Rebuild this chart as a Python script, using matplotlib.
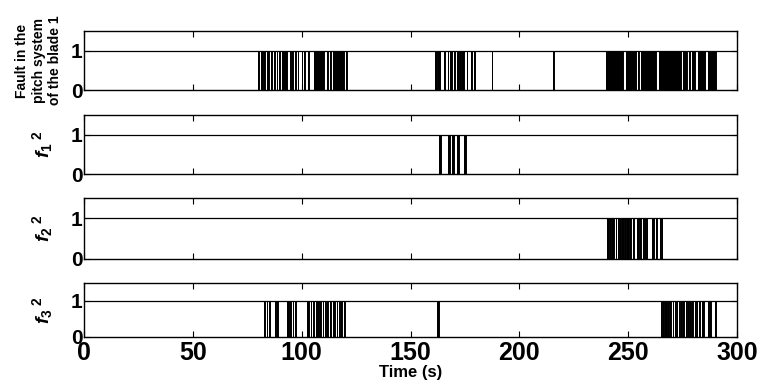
import matplotlib.pyplot as plt
import numpy as np

plt.rcParams['font.family'] = ['Liberation Sans', 'DejaVu Sans']
plt.rcParams['font.weight'] = 'bold'
plt.rcParams['mathtext.fontset'] = 'custom'
plt.rcParams['mathtext.it'] = 'Liberation Sans:italic:bold'
plt.rcParams['mathtext.rm'] = 'Liberation Sans:bold'
plt.rcParams['mathtext.bf'] = 'Liberation Sans:bold'

T_END = 300
THRESHOLD = 1
PULSE = 0.35  # s, duration of a single short fault pulse

# fault in the pitch system of blade 1: short pulses + longer on-intervals
blade1_pulses = [80.1, 81.2, 81.9, 85.9, 87.4, 88.5, 89.7, 90.8, 94.6, 95.7, 96.9, 98.1,
                 100.0, 101.2, 103.0, 111.6, 112.9, 120.3, 165.5, 167.1, 170.1, 171.2,
                 171.9, 172.7, 175.8, 177.8, 179.3, 187.3, 215.4]
blade1_blocks = [(82.5, 83.2), (84.1, 84.8), (91.5, 93.1), (105.6, 110.2), (114.3, 119.6),
                 (161.2, 162.0), (162.6, 163.4), (168.2, 169.2), (173.8, 174.7),
                 (239.8, 247.6), (248.8, 253.6), (254.5, 255.0), (256.0, 263.0),
                 (264.1, 274.3), (275.4, 277.1), (278.1, 278.3), (279.3, 280.9),
                 (281.9, 285.5), (286.6, 290.3)]

# residual indicators f_i^2
f1_pulses = []
f1_blocks = [(163.2, 163.9), (167.4, 168.3), (168.9, 169.8), (171.4, 172.3), (174.6, 175.6)]

f2_pulses = [240.1, 240.8, 241.6, 242.4, 243.1, 244.2, 245.4, 246.2, 247.0, 247.7, 248.5,
             249.3, 250.0, 250.8, 252.3, 253.9, 254.6, 255.4, 256.9, 257.7, 258.5, 260.8,
             261.5, 263.0, 264.6, 265.4]
f2_blocks = []

f3_pulses = [82.8, 83.9, 85.1, 87.7, 88.8, 93.1, 93.8, 94.6, 95.8, 96.9, 102.3, 103.0,
             104.1, 105.3, 106.5, 107.6, 108.4, 109.6, 110.7, 111.8, 113.0, 114.2, 114.9,
             116.1, 117.2, 118.3, 119.5, 162.0, 162.7,
             265.3, 266.1, 266.9, 267.6, 268.4, 269.2, 270.4, 271.5, 272.3, 273.4, 274.5,
             275.3, 276.5, 277.6, 278.3, 279.5, 280.6, 281.4, 282.6, 283.7, 284.4, 286.7,
             287.5, 289.8]
f3_blocks = []

ylabels = ['Fault in the\npitch system\nof the blade 1',
           r'$f_{1}{}^{\ 2}$', r'$f_{2}{}^{\ 2}$', r'$f_{3}{}^{\ 2}$']
x_ticks = [0, 50, 100, 150, 200, 250, 300]
y_ticks = [0, 1]


def step_signal(pulses, blocks):
    intervals = sorted([(p, p + PULSE) for p in pulses] + list(blocks))
    t, y = [0], [0]
    for s, e in intervals:
        t += [s, s, e, e]
        y += [0, 1, 1, 0]
    t.append(T_END)
    y.append(0)
    return np.array(t), np.array(y)


H = 383.0
W = 758.0
# axes boxes in pixels: (top, bottom)
boxes = [(31, 90), (115, 174), (198, 259), (283, 337)]
left, right = 84, 737

fig = plt.figure(figsize=(W / 100, H / 100), dpi=100, facecolor='w')
series = [(blade1_pulses, blade1_blocks), (f1_pulses, f1_blocks),
          (f2_pulses, f2_blocks), (f3_pulses, f3_blocks)]

for i, ((pulses, blocks), (top, bot)) in enumerate(zip(series, boxes)):
    ax = fig.add_axes([left / W, (H - bot) / H, (right - left) / W, (bot - top) / H])
    t, y = step_signal(pulses, blocks)
    ax.fill_between(t, 0, y, color='k', lw=0)
    ax.plot(t, y, color='k', lw=0.7)
    ax.plot([0, T_END], [THRESHOLD, THRESHOLD], color='k', lw=0.9)
    ax.set_xlim(0, T_END)
    ax.set_ylim(0, 1.5)
    ax.set_xticks(x_ticks)
    ax.set_yticks(y_ticks)
    ax.tick_params(direction='in', top=True, right=True, length=4, width=0.8)
    ax.tick_params(axis='y', labelsize=15, pad=1)
    ax.tick_params(axis='x', labelsize=18, pad=3)
    for sp in ax.spines.values():
        sp.set_linewidth(1.0)
    if i < 3:
        ax.tick_params(labelbottom=False)
    else:
        ax.set_xlabel('Time (s)', fontsize=12, fontweight='bold', labelpad=0)
    if i == 0:
        ax.set_ylabel(ylabels[i], fontsize=10, fontweight='bold', linespacing=1.2)
        ax.yaxis.set_label_coords(-0.034, 0.5)
    else:
        ax.set_ylabel(ylabels[i], fontsize=14)
        ax.yaxis.set_label_coords(-0.045, 0.5)

plt.savefig('out.png', dpi=100)
